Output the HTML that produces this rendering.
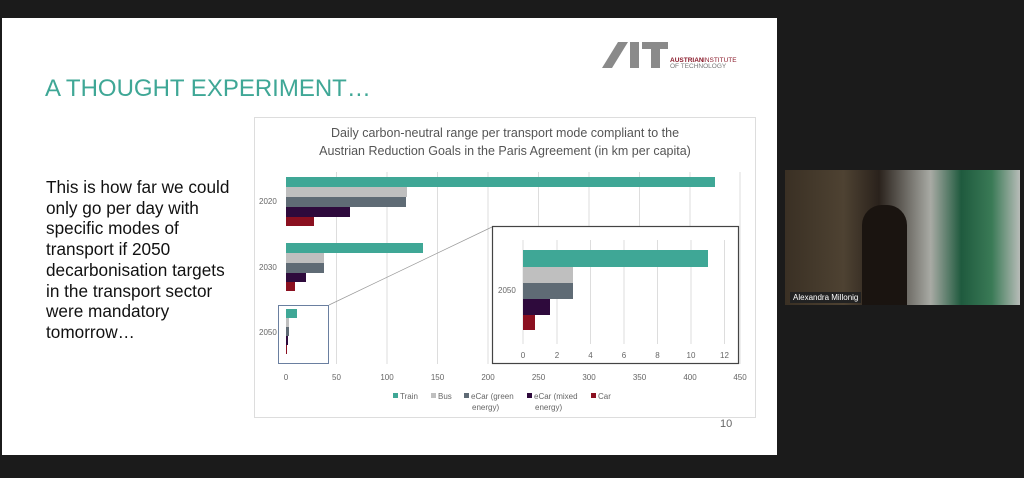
<!DOCTYPE html>
<html><head><style>
body{margin:0;width:1024px;height:478px;background:#1b1b1b;overflow:hidden;position:relative;font-family:"Liberation Sans",sans-serif}
.slide{position:absolute;left:2px;top:18px;width:775px;height:437px;background:#fff}
.title{position:absolute;left:45px;top:75px;font-size:24px;color:#3fa796;white-space:nowrap}
.body{position:absolute;left:46px;top:177px;font-size:17.2px;line-height:20.7px;color:#111;white-space:nowrap}
.pn{position:absolute;left:720px;top:418px;font-size:11px;color:#666}
.vid{position:absolute;left:785px;top:170px;width:235px;height:135px;background:linear-gradient(90deg,#3a3024 0%,#4e4232 25%,#2a221c 40%,#a8aaa4 62%,#1f5a3e 75%,#3a7a56 88%,#b8bcb8 100%)}
.name{position:absolute;left:790px;top:292px;background:#222;color:#fff;font-size:8px;padding:1px 3px}
</style></head><body>
<div class="slide"></div>
<div class="title">A THOUGHT EXPERIMENT…</div>
<div class="body">This is how far we could<br>only go per day with<br>specific modes of<br>transport if 2050<br>decarbonisation targets<br>in the transport sector<br>were mandatory<br>tomorrow…</div>
<div class="pn">10</div>
<svg style="position:absolute;left:0;top:0" width="1024" height="478" font-family="Liberation Sans, sans-serif">
<polygon points="602,68 618,42 628,42 612,68" fill="#8a8a8a"/>
<rect x="630" y="42" width="9" height="26" fill="#8a8a8a"/>
<rect x="642" y="42" width="26" height="7" fill="#8a8a8a"/>
<rect x="651" y="42" width="9" height="26" fill="#8a8a8a"/>
<text x="670" y="62" font-size="6.5" font-weight="bold" fill="#8a1a2a">AUSTRIAN</text>
<text x="703" y="62" font-size="6.5" fill="#8a1a2a">INSTITUTE</text>
<text x="670" y="68" font-size="6.5" fill="#777">OF TECHNOLOGY</text>
<rect x="254.5" y="117.5" width="501" height="300" fill="#fff" stroke="#ddd"/>
<text x="505" y="137" font-size="12.5" fill="#555" text-anchor="middle">Daily carbon-neutral range per transport mode compliant to the</text>
<text x="505" y="155" font-size="12.5" fill="#555" text-anchor="middle">Austrian Reduction Goals in the Paris Agreement (in km per capita)</text>
<g stroke="#ddd" stroke-width="1">
<line x1="336.5" y1="172" x2="336.5" y2="364"/><line x1="387" y1="172" x2="387" y2="364"/><line x1="437.5" y1="172" x2="437.5" y2="364"/><line x1="488" y1="172" x2="488" y2="364"/><line x1="538.5" y1="172" x2="538.5" y2="364"/><line x1="589" y1="172" x2="589" y2="364"/><line x1="639.5" y1="172" x2="639.5" y2="364"/><line x1="690" y1="172" x2="690" y2="364"/><line x1="740" y1="172" x2="740" y2="364"/>
</g>
<g font-size="8" fill="#666" text-anchor="middle">
<text x="286" y="380">0</text><text x="336.5" y="380">50</text><text x="387" y="380">100</text><text x="437.5" y="380">150</text><text x="488" y="380">200</text><text x="538.5" y="380">250</text><text x="589" y="380">300</text><text x="639.5" y="380">350</text><text x="690" y="380">400</text><text x="740" y="380">450</text>
</g>
<g font-size="8" fill="#666"><text x="259" y="204">2020</text><text x="259" y="270">2030</text><text x="259" y="335">2050</text></g>
<rect x="286" y="177" width="429" height="10" fill="#3fa796"/>
<rect x="286" y="187" width="121" height="10" fill="#bfbfbf"/>
<rect x="286" y="197" width="120" height="10" fill="#5f6b75"/>
<rect x="286" y="207" width="64" height="10" fill="#2e0a3c"/>
<rect x="286" y="217" width="28" height="9" fill="#8b1020"/>
<rect x="286" y="243" width="137" height="10" fill="#3fa796"/>
<rect x="286" y="253" width="38" height="10" fill="#bfbfbf"/>
<rect x="286" y="263" width="38" height="10" fill="#5f6b75"/>
<rect x="286" y="273" width="20" height="9" fill="#2e0a3c"/>
<rect x="286" y="282" width="9" height="9" fill="#8b1020"/>
<rect x="286" y="309" width="11" height="9" fill="#3fa796"/>
<rect x="286" y="318" width="3" height="9" fill="#bfbfbf"/>
<rect x="286" y="327" width="3" height="9" fill="#5f6b75"/>
<rect x="286" y="336" width="2" height="9" fill="#2e0a3c"/>
<rect x="286" y="345" width="1" height="9" fill="#8b1020"/>
<rect x="278.5" y="305.5" width="50" height="58" fill="none" stroke="#6a7fa0" stroke-width="1"/>
<line x1="329" y1="305" x2="492" y2="227" stroke="#999" stroke-width="0.7"/>
<rect x="492.5" y="226.5" width="246" height="137" fill="#fff" stroke="#444" stroke-width="1.2"/>
<g stroke="#ddd"><line x1="523" y1="240" x2="523" y2="344"/><line x1="557" y1="240" x2="557" y2="344"/><line x1="590.5" y1="240" x2="590.5" y2="344"/><line x1="624" y1="240" x2="624" y2="344"/><line x1="657.5" y1="240" x2="657.5" y2="344"/><line x1="691" y1="240" x2="691" y2="344"/><line x1="724.5" y1="240" x2="724.5" y2="344"/></g>
<g font-size="8" fill="#666" text-anchor="middle"><text x="523" y="358">0</text><text x="557" y="358">2</text><text x="590.5" y="358">4</text><text x="624" y="358">6</text><text x="657.5" y="358">8</text><text x="691" y="358">10</text><text x="724.5" y="358">12</text></g>
<text x="498" y="293" font-size="8" fill="#666">2050</text>
<rect x="523" y="250" width="185" height="17" fill="#3fa796"/>
<rect x="523" y="267" width="50" height="16" fill="#bfbfbf"/>
<rect x="523" y="283" width="50" height="16" fill="#5f6b75"/>
<rect x="523" y="299" width="27" height="16" fill="#2e0a3c"/>
<rect x="523" y="315" width="12" height="15" fill="#8b1020"/>
<g font-size="8" fill="#666">
<rect x="393" y="393" width="5" height="5" fill="#3fa796"/><text x="400" y="399">Train</text>
<rect x="431" y="393" width="5" height="5" fill="#bfbfbf"/><text x="438" y="399">Bus</text>
<rect x="464" y="393" width="5" height="5" fill="#5f6b75"/><text x="471" y="399">eCar (green</text><text x="472" y="410">energy)</text>
<rect x="527" y="393" width="5" height="5" fill="#2e0a3c"/><text x="534" y="399">eCar (mixed</text><text x="535" y="410">energy)</text>
<rect x="591" y="393" width="5" height="5" fill="#8b1020"/><text x="598" y="399">Car</text>
</g>
</svg>
<div class="vid"></div>
<div style="position:absolute;left:862px;top:205px;width:45px;height:100px;background:#1a1410;border-radius:20px 20px 0 0"></div>
<div class="name">Alexandra Millonig</div>
</body></html>
